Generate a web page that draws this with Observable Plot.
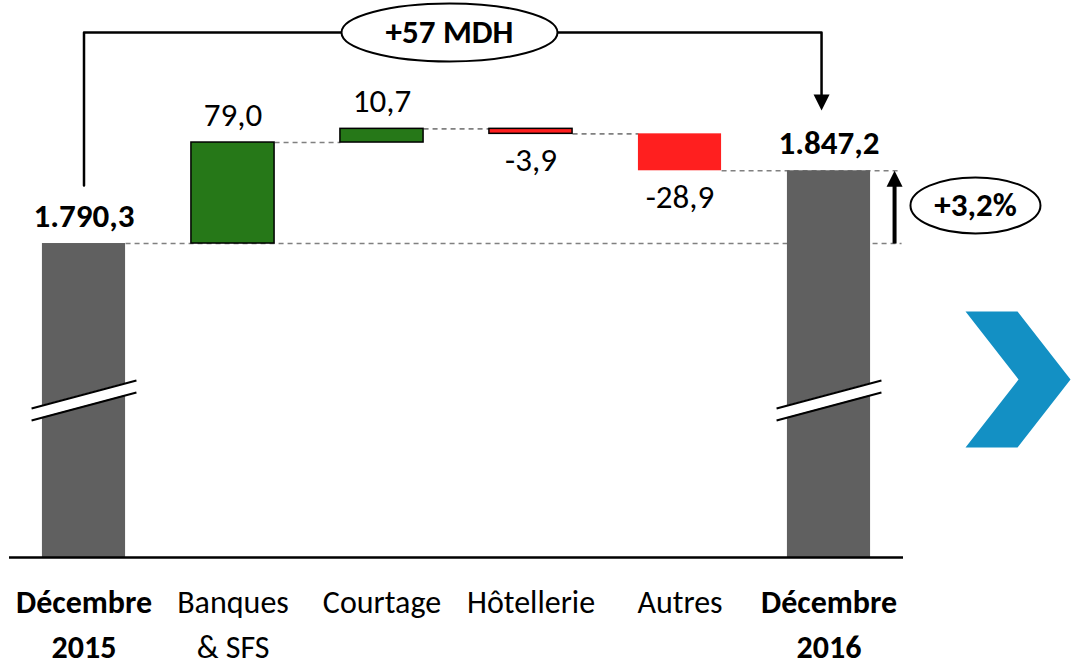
<!DOCTYPE html>
<html><head><meta charset="utf-8">
<script src="https://cdn.jsdelivr.net/npm/d3@7"></script>
<script src="https://cdn.jsdelivr.net/npm/@observablehq/plot@0.6"></script>
<style>html,body{margin:0;padding:0;background:#fff;}</style>
</head><body><div id="chart"></div>
<script>
// ---- data ----
const categories = ["Décembre\n2015", "Banques\n& SFS", "Courtage", "Hôtellerie", "Autres", "Décembre\n2016"];
const values = [1790.3, 79.0, 10.7, -3.9, -28.9, 1847.2];
const kinds = ["total", "delta", "delta", "delta", "delta", "total"];
const valueLabels = ["1.790,3", "79,0", "10,7", "-3,9", "-28,9", "1.847,2"];
const totalChangeLabel = "+57 MDH";
const pctChangeLabel = "+3,2%";

// ---- layout ----
const yMin = 1544.7, yMax = 1980.4;   // broken axis window
const hw = 0.279;                      // half bar width (in category steps)
const FONT = "Carlito, Calibri, Lato, sans-serif";
const colors = {total: "#606060", up: "#267818", down: "#ff1f1f"};

let running = 0;
const rows = categories.map((c, i) => {
  let lo, hi, end, fill, stroke;
  if (kinds[i] === "total") {
    lo = yMin; hi = values[i]; end = values[i]; fill = colors.total; stroke = "none";
  } else {
    const start = running; end = running + values[i];
    lo = Math.min(start, end); hi = Math.max(start, end);
    fill = values[i] >= 0 ? colors.up : colors.down;
    stroke = (i === 4) ? "none" : "#000";
  }
  running = end;
  return {i, cat: c, kind: kinds[i], value: values[i], lo, hi, end, fill, stroke, label: valueLabels[i]};
});

// dashed connectors
const arrowX = 5.44, dashEnd = 5.487;
const connectors = [
  {x1: 0 + hw, x2: dashEnd, y: rows[0].end},
  {x1: 1 + hw, x2: 2 - hw, y: rows[1].end},
  {x1: 2 + hw, x2: 3 - hw, y: rows[2].end},
  {x1: 3 + hw, x2: 4 - hw, y: rows[3].end},
  {x1: 4 + hw, x2: dashEnd, y: rows[4].end}
];

// value label groups
const totalsRows = rows.filter(r => r.kind === "total");
const upRows = rows.filter(r => r.kind === "delta" && r.value >= 0);
const downRows = rows.filter(r => r.kind === "delta" && r.value < 0);

// axis break marks on total bars
const breaks = totalsRows.flatMap(r => [
  {x: r.i - 0.352, lower: 1651.9, upper: 1661.3, i: r.i},
  {x: r.i + 0.352, lower: 1673.8, upper: 1683.2, i: r.i}
]);
const breakLines = totalsRows.flatMap(r => [
  {x1: r.i - 0.352, x2: r.i + 0.352, y1: 1661.3, y2: 1683.2},
  {x1: r.i - 0.352, x2: r.i + 0.352, y1: 1651.9, y2: 1673.8}
]);

// annotation geometry
const bracketTop = 1955.4, bracketRightX = 4.95;
const bracket = [[0, 1835.7], [0, bracketTop], [bracketRightX, bracketTop], [bracketRightX, 1900]];

function ellipse(rx, ry) {
  const k = 0.5523;
  return {draw(ctx) {
    ctx.moveTo(rx, 0);
    ctx.bezierCurveTo(rx, ry * k, rx * k, ry, 0, ry);
    ctx.bezierCurveTo(-rx * k, ry, -rx, ry * k, -rx, 0);
    ctx.bezierCurveTo(-rx, -ry * k, -rx * k, -ry, 0, -ry);
    ctx.bezierCurveTo(rx * k, -ry, rx, -ry * k, rx, 0);
    ctx.closePath();
  }};
}
const headUp = {draw(ctx) { ctx.moveTo(0, 0); ctx.lineTo(-8, 16); ctx.lineTo(8, 16); ctx.closePath(); }};
const chevron = {draw(ctx) {
  ctx.moveTo(-53, -68); ctx.lineTo(-1, -68); ctx.lineTo(52, 0); ctx.lineTo(-1, 68);
  ctx.lineTo(-53, 68); ctx.lineTo(0, 0); ctx.closePath();
}};

const catText = (data, weight) => Plot.text(data, {x: "i", y: () => yMin, dy: 24, text: "cat", fontSize: 32,
  lineHeight: 1.4, lineAnchor: "top", fill: "#000", fontWeight: weight});

const plot = Plot.plot({
  width: 1077, height: 667,
  marginLeft: 9, marginRight: 174, marginTop: 0, marginBottom: 110,
  x: {domain: [-0.5, 5.5], axis: null},
  y: {domain: [yMin, yMax], axis: null},
  style: {fontFamily: FONT, background: "#fff"},
  marks: [
    Plot.link(connectors, {x1: "x1", x2: "x2", y1: "y", y2: "y", stroke: "#808080", strokeWidth: 1.6, strokeDasharray: "5,4"}),
    Plot.rectY(rows, {x1: d => d.i - hw, x2: d => d.i + hw, y1: "lo", y2: "hi", fill: "fill", stroke: "stroke", strokeWidth: 1.5}),
    Plot.areaY(breaks, {x: "x", y1: "lower", y2: "upper", z: "i", fill: "#fff"}),
    Plot.link(breakLines, {x1: "x1", x2: "x2", y1: "y1", y2: "y2", stroke: "#000", strokeWidth: 2}),
    Plot.ruleY([yMin], {stroke: "#000", strokeWidth: 2.5}),
    Plot.text(upRows, {x: "i", y: "hi", dy: -27, text: "label", fontSize: 33, fill: "#000", lineAnchor: "middle"}),
    Plot.text(downRows, {x: "i", y: "lo", dy: 27, text: "label", fontSize: 33, fill: "#000", lineAnchor: "middle"}),
    Plot.text(totalsRows, {x: "i", y: "hi", dy: -27, text: "label", fontSize: 33, fontWeight: "bold", fill: "#000", lineAnchor: "middle"}),
    catText(rows.filter(r => r.kind !== "total"), "normal"),
    catText(totalsRows, "bold"),
    // total change bracket
    Plot.line(bracket, {x: d => d[0], y: d => d[1], stroke: "#000", strokeWidth: 2.5}),
    Plot.dot([[bracketRightX, 1894.4]], {x: d => d[0], y: d => d[1], symbol: headUp, rotate: 180, fill: "#000", stroke: "none", r: 5}),
    Plot.dot([[2.453, bracketTop]], {x: d => d[0], y: d => d[1], symbol: ellipse(108, 29), fill: "#fff", stroke: "#000", strokeWidth: 2, r: 5}),
    Plot.text([totalChangeLabel], {x: 2.453, y: bracketTop, text: d => d, fontSize: 33, fontWeight: "bold", fill: "#000"}),
    // percentage arrow
    Plot.link([0], {x1: arrowX, x2: arrowX, y1: rows[0].end, y2: rows[5].end - 5, stroke: "#000", strokeWidth: 4}),
    Plot.dot([[arrowX, rows[5].end]], {x: d => d[0], y: d => d[1], symbol: headUp, fill: "#000", stroke: "none", r: 5}),
    Plot.dot([[5.983, 1820.1]], {x: d => d[0], y: d => d[1], symbol: ellipse(65, 28), fill: "#fff", stroke: "#000", strokeWidth: 2, r: 5}),
    Plot.text([pctChangeLabel], {x: 5.983, y: 1820.1, text: d => d, fontSize: 33, fontWeight: "bold", fill: "#000"}),
    // decorative chevron
    Plot.dot([[6.272, 1683.9]], {x: d => d[0], y: d => d[1], symbol: chevron, fill: "#1390c4", stroke: "none", r: 5})
  ]
});
document.getElementById("chart").appendChild(plot);
</script>
</body></html>
